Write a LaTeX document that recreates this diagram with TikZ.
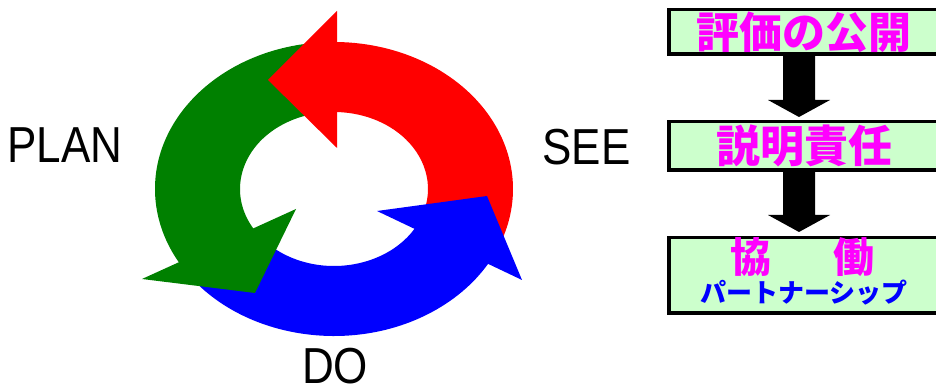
\documentclass[tikz,border=0pt]{standalone}
\usepackage{fontspec}
\usepackage{graphicx}
\setmainfont{Liberation Sans}
\newfontfamily\jp{Noto Sans CJK JP}
\usetikzlibrary{calc}
\definecolor{ringred}{HTML}{FF0000}
\definecolor{ringgreen}{HTML}{008000}
\definecolor{ringblue}{HTML}{0000FF}
\definecolor{boxgreen}{HTML}{CCFFCC}
\definecolor{jpmagenta}{HTML}{FF00FF}
\definecolor{jpblue}{HTML}{0000FF}
\begin{document}
\begin{tikzpicture}[x=1pt,y=1pt,
  stepbox/.style={draw=black, line width=3.5pt, fill=boxgreen, minimum width=270pt, inner sep=0pt},
  cyclelabel/.style={anchor=base, inner sep=0pt, font=\fontsize{44}{44}\selectfont},
  jpmag/.style={inner sep=0pt, text=jpmagenta, font=\jp\bfseries\fontsize{#1}{#1}\selectfont},
  jpblu/.style={inner sep=0pt, text=jpblue, font=\jp\bfseries\fontsize{#1}{#1}\selectfont},
  blockarrow/.style={fill=black}]
\useasboundingbox (0,0) rectangle (936,390);
\clip (0,0) rectangle (936,390);

% ---- cycle ring ----
\begin{scope}[shift={(334,201)}]
  % bodies
  \fill[ringblue] (215:179 and 147) arc[start angle=215, end angle=333, x radius=179, y radius=147]
     -- (333:94 and 77) arc[start angle=333, end angle=215, x radius=94, y radius=77] -- cycle;
  \fill[ringred] (91:179 and 147) arc[start angle=91, end angle=-20, x radius=179, y radius=147]
     -- (-20:94 and 77) arc[start angle=-20, end angle=91, x radius=94, y radius=77] -- cycle;
  \fill[ringgreen] (95:179 and 147) arc[start angle=95, end angle=212, x radius=179, y radius=147]
     -- (212:94 and 77) arc[start angle=212, end angle=95, x radius=94, y radius=77] -- cycle;
  % heads
  \fill[ringred] (3,178) -- (-66,109) -- (3,41) -- cycle;
  \fill[ringgreen] (-192,-90) -- (-79,-104) -- (-38,-20) -- cycle;
  \fill[ringblue] (43,-22) -- (153,-7) -- (188,-91) -- cycle;
\end{scope}

\node[cyclelabel] (plan) at (65,227) {\scalebox{1}[1.15]{PLAN}};
\node[cyclelabel] (see) at (586.5,225) {\scalebox{1}[1.15]{SEE}};
\node[cyclelabel] (do) at (335,6) {\scalebox{1}[1.15]{DO}};

% ---- right column ----
\node[stepbox, minimum height=44.5pt, jpmag=43] (b1) at (804,358) {評価の公開};
\node[stepbox, minimum height=48.5pt, jpmag=44] (b2) at (804,244) {説明責任};
\node[stepbox, minimum height=75.5pt] (b3) at (804,114.5) {};
\node[jpmag=41] (t3a) at (802.5,132.5) {協\hspace{1.5em}働};
\node[jpblu=26] (t3b) at (804,97.5) {パートナーシップ};

\fill[blockarrow] ($(b1.south)+(-21,0)$) -- ($(b2.north)+(-21,20)$) -- ($(b2.north)+(-36,20)$)
  -- ($(b2.north)+(-5,3)$) -- ($(b2.north)+(26,20)$) -- ($(b2.north)+(11,20)$)
  -- ($(b1.south)+(11,0)$) -- cycle;
\fill[blockarrow] ($(b2.south)+(-21,0)$) -- ($(b3.north)+(-21,21)$) -- ($(b3.north)+(-36,21)$)
  -- ($(b3.north)+(-5,4)$) -- ($(b3.north)+(26,21)$) -- ($(b3.north)+(11,21)$)
  -- ($(b2.south)+(11,0)$) -- cycle;
\end{tikzpicture}
\end{document}
